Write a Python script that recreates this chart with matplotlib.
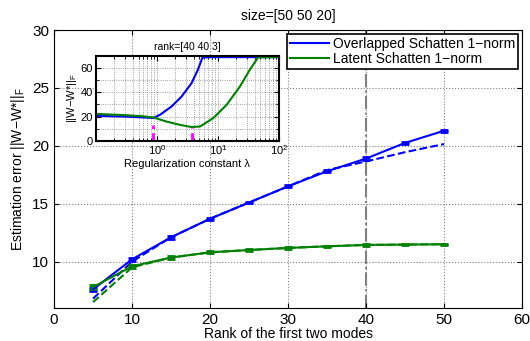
import matplotlib
matplotlib.use("Agg")
import matplotlib.pyplot as plt
from matplotlib.lines import Line2D
import numpy as np

plt.rcParams["font.family"] = ["Liberation Sans", "DejaVu Sans"]
plt.rcParams["mathtext.fontset"] = "custom"
plt.rcParams["mathtext.rm"] = "Liberation Sans"
plt.rcParams["mathtext.it"] = "Liberation Sans:italic"

# main plot data
ranks = [5, 10, 15, 20, 25, 30, 35, 40, 45, 50]
overlap_err = [7.6, 10.2, 12.1, 13.7, 15.1, 16.5, 17.8, 18.9, 20.25, 21.3]
overlap_std = [0.15, 0.15, 0.12, 0.1, 0.08, 0.08, 0.08, 0.1, 0.08, 0.08]
latent_err = [7.8, 9.6, 10.35, 10.8, 11.0, 11.18, 11.32, 11.44, 11.47, 11.5]
latent_std = [0.15, 0.12, 0.1, 0.08, 0.08, 0.06, 0.06, 0.06, 0.06, 0.06]
overlap_fit = [6.8, 10.0, 12.1, 13.7, 15.1, 16.5, 17.9, 18.65, 19.45, 20.15]
latent_fit = [6.5, 9.5, 10.35, 10.8, 11.0, 11.18, 11.32, 11.44, 11.47, 11.5]

# inset data (rank=[40 40 3])
lam_blue = [0.1, 0.3, 0.6, 0.87, 1.12, 1.74, 2.54, 3.7, 4.7, 5.6, 10, 30, 100]
err_blue = [20.6, 20.0, 19.3, 18.8, 21.4, 28.3, 36.5, 47.5, 58.5, 68.8, 69.0, 69.0, 69.0]
lam_green = [0.1, 0.3, 0.6, 0.87, 1.44, 2.38, 3.7, 5.1, 8.4, 13.9, 23, 33.4, 45.8, 100]
err_green = [22.2, 21.2, 20.2, 19.3, 15.9, 13.2, 11.4, 11.8, 18.7, 29.6, 44.7, 58.5, 68.8, 69.0]
lam_best = [0.87, 3.8]
mark_top = [13, 10.5]

blue = (0, 0, 1)
green = (0, 0.5, 0)

fig = plt.figure(figsize=(5.3, 3.41), dpi=100)
ax = fig.add_axes([0.102, 0.097, 0.883, 0.815])

ax.axvline(40, color=(0.5, 0.5, 0.5), ls="-.", lw=1.5, zorder=1)
ax.plot(ranks, overlap_fit, "--", color=blue, lw=1.5)
ax.plot(ranks, latent_fit, "--", color=green, lw=1.5)
ax.errorbar(ranks, overlap_err, yerr=overlap_std, color=blue, lw=1.5,
            capsize=3, capthick=2, label="Overlapped Schatten 1\u2212norm")
ax.errorbar(ranks, latent_err, yerr=latent_std, color=green, lw=1.5,
            capsize=3, capthick=2, label="Latent Schatten 1\u2212norm")

ax.set_xlim(0, 60)
ax.set_ylim(6, 30)
ax.set_xticks(np.arange(0, 61, 10))
ax.set_yticks(np.arange(10, 31, 5))
ax.tick_params(direction="in", top=True, right=True, labelsize=11)
ax.grid(True, ls=":", color="gray", lw=0.8)
ax.set_xlabel("Rank of the first two modes", fontsize=10, labelpad=0)
ax.set_ylabel("Estimation error ||W\u2212W*||$_\\mathrm{F}$", fontsize=10)
ax.set_title("size=[50 50 20]", fontsize=10, pad=7)

labels = ax.get_legend_handles_labels()[1]
hl = [Line2D([], [], color=blue, lw=1.5), Line2D([], [], color=green, lw=1.5)]
leg = ax.legend(hl, labels, loc="upper right", fontsize=10, fancybox=False,
                edgecolor="black", framealpha=1, borderpad=0.2, handlelength=2.8,
                handletextpad=0.3, labelspacing=0.1, borderaxespad=0.3)
leg.get_frame().set_linewidth(1.2)

# inset
ins = fig.add_axes([0.181, 0.587, 0.345, 0.249])
ins.plot(lam_blue, err_blue, color=blue, lw=1.5)
ins.plot(lam_green, err_green, color=green, lw=1.5)
for lb, top in zip(lam_best, mark_top):
    ins.plot([lb, lb], [0, top], color=(1, 0, 1), lw=2, dashes=(3, 1.5))
ins.set_xscale("log")
ins.set_xlim(0.1, 100)
ins.set_ylim(0, 70)
ins.set_xticks([1, 10, 100])
ins.set_yticks([0, 20, 40, 60])
ins.set_yticks(np.arange(10, 70, 20), minor=True)
ins.tick_params(which="both", direction="in", top=True, right=True, labelsize=8, pad=2)
ins.grid(True, which="both", ls=":", color="gray", lw=0.6)
for s in ins.spines.values():
    s.set_linewidth(1.5)
ins.set_title("rank=[40 40 3]", fontsize=7.5, pad=4)
ins.set_xlabel("Regularization constant \u03bb", fontsize=8, labelpad=1)
ins.set_ylabel("||W\u2212W*||$_\\mathrm{F}$", fontsize=8, labelpad=1)

fig.savefig("out.png", dpi=100)
